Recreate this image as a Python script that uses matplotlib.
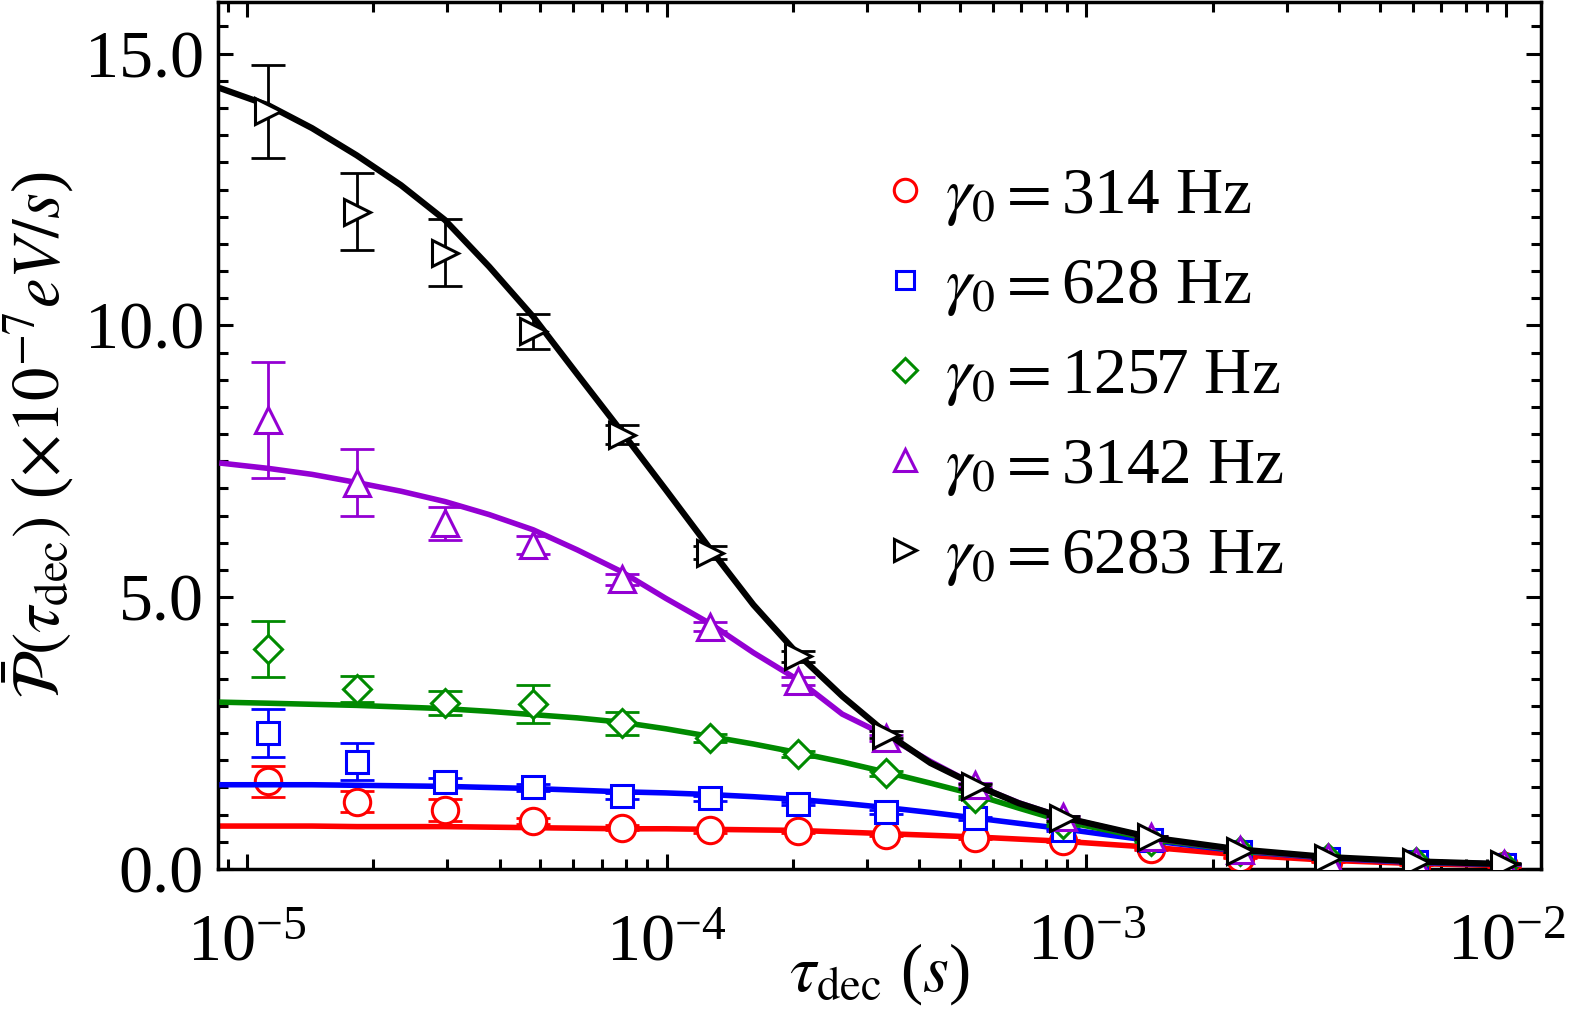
import numpy as np
import matplotlib
matplotlib.use("Agg")
import matplotlib.pyplot as plt
from matplotlib.ticker import FixedLocator, LogLocator, NullFormatter, MultipleLocator, FormatStrFormatter

plt.rcParams["font.family"] = ["Liberation Serif", "DejaVu Serif"]
plt.rcParams["mathtext.fontset"] = "stix"

# measured decoherence times (s)
tau_dec = [1.125e-5, 1.827e-5, 2.965e-5, 4.811e-5, 7.809e-5, 1.267e-4, 2.056e-4,
           3.338e-4, 5.416e-4, 8.79e-4, 1.427e-3, 2.316e-3, 3.758e-3, 6.1e-3, 9.9e-3]

labels = [r"$\gamma_0 = $314 Hz", r"$\gamma_0 = $628 Hz", r"$\gamma_0 = $1257 Hz",
          r"$\gamma_0 = $3142 Hz", r"$\gamma_0 = $6283 Hz"]

p_314 = [1.61, 1.24, 1.08, 0.88, 0.76, 0.71, 0.69, 0.63, 0.57, 0.51, 0.36, 0.21, 0.13, 0.08, 0.05]
p_628 = [2.50, 1.97, 1.60, 1.50, 1.34, 1.30, 1.20, 1.05, 0.93, 0.71, 0.54, 0.32, 0.19, 0.12, 0.08]
p_1257 = [4.05, 3.31, 3.05, 3.04, 2.68, 2.41, 2.12, 1.76, 1.31, 0.82, 0.52, 0.33, 0.20, 0.12, 0.08]
p_3142 = [8.26, 7.11, 6.36, 5.96, 5.33, 4.46, 3.46, 2.41, 1.55, 0.95, 0.58, 0.35, 0.20, 0.13, 0.09]
p_6283 = [13.94, 12.09, 11.34, 9.89, 7.99, 5.82, 3.91, 2.47, 1.52, 0.93, 0.58, 0.34, 0.21, 0.125, 0.095]

err_314 = [0.28, 0.20, 0.20, 0.06, 0.05, 0.04, 0.03, 0.03, 0.02, 0.02, 0.01, 0.01, 0.01, 0.01, 0.01]
err_628 = [0.44, 0.34, 0.08, 0.06, 0.05, 0.04, 0.03, 0.03, 0.02, 0.02, 0.01, 0.01, 0.01, 0.01, 0.01]
err_1257 = [0.51, 0.24, 0.22, 0.35, 0.21, 0.08, 0.06, 0.05, 0.03, 0.02, 0.02, 0.01, 0.01, 0.01, 0.01]
err_3142 = [1.06, 0.62, 0.30, 0.17, 0.10, 0.08, 0.07, 0.05, 0.04, 0.03, 0.02, 0.02, 0.01, 0.01, 0.01]
err_6283 = [0.86, 0.71, 0.62, 0.32, 0.17, 0.12, 0.10, 0.06, 0.05, 0.04, 0.03, 0.02, 0.02, 0.01, 0.01]

# fitted curves
fit_tau = [8.6e-6, 1.125e-5, 1.43e-5, 1.827e-5, 2.33e-5, 2.965e-5, 3.78e-5, 4.811e-5,
           6.13e-5, 7.809e-5, 9.95e-5, 1.267e-4, 1.61e-4, 2.056e-4, 2.62e-4, 3.338e-4,
           4.25e-4, 5.416e-4, 6.9e-4, 8.79e-4, 1.427e-3, 2.316e-3, 3.758e-3, 6.1e-3, 9.9e-3]
fit_314 = [0.79, 0.79, 0.79, 0.78, 0.78, 0.78, 0.77, 0.76, 0.75, 0.74, 0.74, 0.73, 0.72,
           0.71, 0.68, 0.65, 0.62, 0.59, 0.55, 0.51, 0.40, 0.26, 0.16, 0.10, 0.06]
fit_628 = [1.55, 1.55, 1.55, 1.54, 1.53, 1.52, 1.50, 1.48, 1.45, 1.42, 1.40, 1.37, 1.33,
           1.28, 1.21, 1.13, 1.04, 0.94, 0.84, 0.74, 0.52, 0.33, 0.20, 0.12, 0.08]
fit_1257 = [3.07, 3.05, 3.03, 3.01, 2.98, 2.95, 2.90, 2.84, 2.78, 2.70, 2.58, 2.44, 2.30,
            2.14, 1.97, 1.78, 1.58, 1.37, 1.12, 0.88, 0.55, 0.34, 0.21, 0.13, 0.09]
fit_3142 = [7.47, 7.37, 7.26, 7.11, 6.95, 6.76, 6.52, 6.24, 5.87, 5.47, 4.98, 4.52, 3.98,
            3.48, 2.85, 2.45, 1.98, 1.55, 1.22, 0.95, 0.57, 0.35, 0.21, 0.13, 0.09]
fit_6283 = [14.37, 14.05, 13.63, 13.13, 12.58, 11.94, 11.08, 10.16, 9.1, 8.05, 6.98, 5.90,
            4.86, 3.95, 3.18, 2.50, 1.95, 1.55, 1.21, 0.95, 0.58, 0.36, 0.22, 0.14, 0.09]

x_ticks = [1e-5, 1e-4, 1e-3, 1e-2]
x_ticklabels = [r"$\mathdefault{10^{-5}}$", r"$\mathdefault{10^{-4}}$",
                r"$\mathdefault{10^{-3}}$", r"$\mathdefault{10^{-2}}$"]

series = [
    (p_314, err_314, fit_314, "#ff0000", "o", 19),
    (p_628, err_628, fit_628, "#0000ff", "s", 16),
    (p_1257, err_1257, fit_1257, "#008a00", "D", 14),
    (p_3142, err_3142, fit_3142, "#9400d3", "^", 19),
    (p_6283, err_6283, fit_6283, "#000000", ">", 19),
]

fig = plt.figure(figsize=(15.73, 10.17), dpi=100)
ax = fig.add_axes([218 / 1573, 1 - 869 / 1017, (1541 - 218) / 1573, 867 / 1017])

handles = []
for i, (p, err, fit, color, marker, ms) in enumerate(series):
    lw = 4.5 if color == "#000000" else 4.0
    ax.plot(fit_tau, fit, color=color, lw=lw, zorder=2 + 2 * i, solid_capstyle="butt")
    ax.errorbar(tau_dec, p, yerr=err, fmt="none", ecolor=color, elinewidth=2,
                capsize=12, capthick=2, zorder=3 + 2 * i)
    ax.plot(tau_dec, p, linestyle="none", marker=marker, ms=ms, mfc="white",
            mec=color, mew=2.2, zorder=3 + 2 * i)
    h, = ax.plot([], [], linestyle="none", marker=marker, ms=ms * 0.85, mfc="white",
                 mec=color, mew=2.2)
    handles.append(h)

ax.set_xscale("log")
ax.set_xlim(8.54e-6, 1.21e-2)
ax.set_ylim(0, 15.95)

ax.xaxis.set_major_locator(FixedLocator(x_ticks))
ax.set_xticklabels(x_ticklabels)
ax.xaxis.set_minor_locator(LogLocator(base=10, subs=np.arange(2, 10)))
ax.xaxis.set_minor_formatter(NullFormatter())
ax.yaxis.set_major_locator(MultipleLocator(5))
ax.yaxis.set_minor_locator(MultipleLocator(0.5))
ax.yaxis.set_major_formatter(FormatStrFormatter("%.1f"))

ax.tick_params(which="both", direction="in", top=True, right=True, width=2.2)
ax.tick_params(which="major", length=11, labelsize=49)
ax.tick_params(which="minor", length=7)
ax.tick_params(axis="x", which="major", pad=32)
ax.tick_params(axis="y", which="major", pad=10)
for spine in ax.spines.values():
    spine.set_linewidth(2.5)

ax.set_xlabel(r"$\tau_{\rm dec}$ ($s$)", fontsize=48, labelpad=-24)
ax.set_ylabel(r"$\bar{\mathcal{P}}(\tau_{\rm dec})$ ($\times 10^{-7}eV/s$)", fontsize=48, labelpad=6)

ax.legend(handles, labels, loc="upper left", bbox_to_anchor=(0.485, 0.84),
          frameon=False, fontsize=47, handlelength=0.6, handletextpad=0.3,
          labelspacing=0.45, borderaxespad=0)

fig.savefig("out.png", dpi=100)
